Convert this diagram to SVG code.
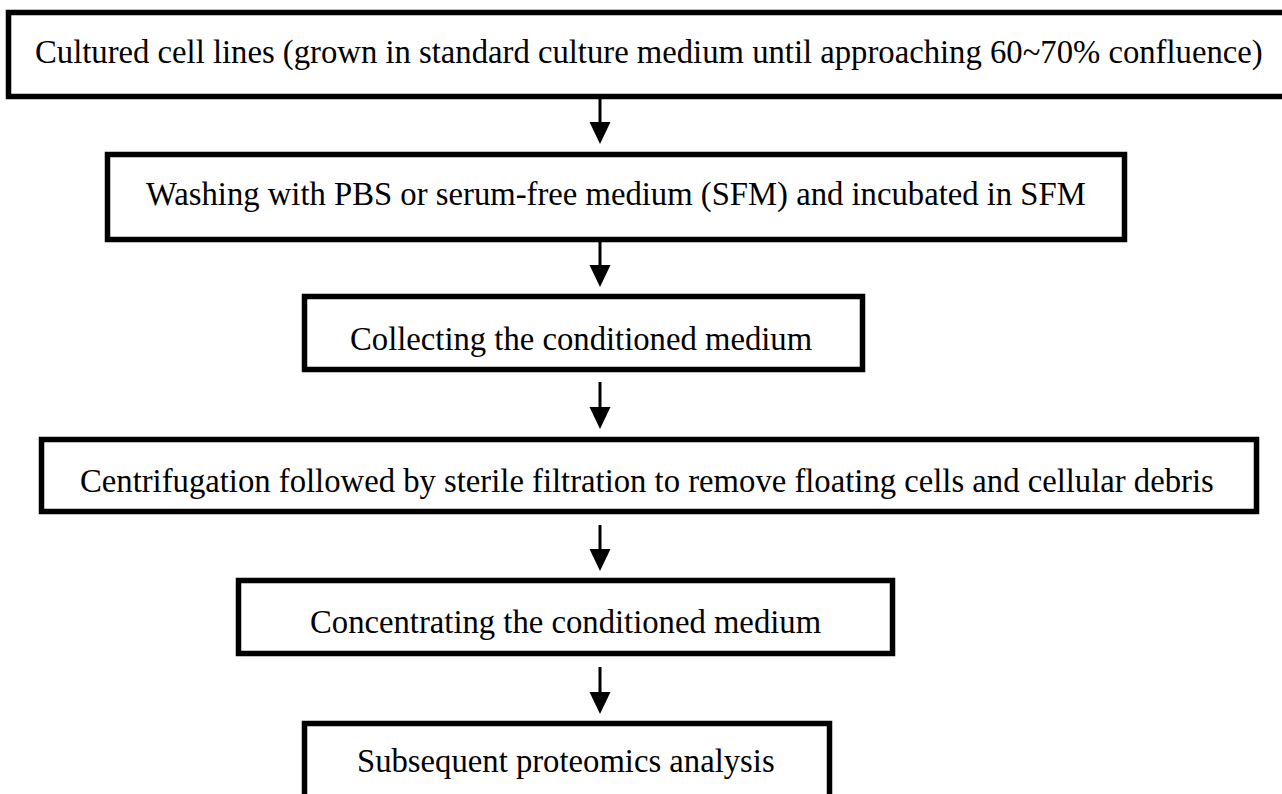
<svg xmlns="http://www.w3.org/2000/svg" width="1282" height="794" viewBox="0 0 1282 794">
<style>
.box{fill:#fff;stroke:#000;stroke-width:5.5}
.lbl{font-family:"Liberation Serif","Times New Roman",serif;font-size:32.7px;fill:#000}
.conn{stroke:#000;stroke-width:3;fill:none}
</style>
<defs>
<marker id="ah" markerUnits="userSpaceOnUse" markerWidth="24" markerHeight="22" refX="1" refY="10.5" orient="auto">
<path d="M0,0 L22,10.5 L0,21 z" fill="#000"/>
</marker>
</defs>
<rect width="1282" height="794" fill="#fff"/>
<g id="connectors">
<line class="conn" x1="600" y1="98" x2="600" y2="123" marker-end="url(#ah)"/>
<line class="conn" x1="600" y1="241" x2="600" y2="266" marker-end="url(#ah)"/>
<line class="conn" x1="600" y1="382" x2="600" y2="408" marker-end="url(#ah)"/>
<line class="conn" x1="600" y1="525" x2="600" y2="550" marker-end="url(#ah)"/>
<line class="conn" x1="600" y1="667" x2="600" y2="693" marker-end="url(#ah)"/>
</g>
<g id="n1">
<rect class="box" x="8.5" y="12.5" width="1290" height="84"/>
<text class="lbl" x="35" y="63">Cultured cell lines (grown in standard culture medium until approaching 60~70% confluence)</text>
</g>
<g id="n2">
<rect class="box" x="107.5" y="154.5" width="1017" height="85"/>
<text class="lbl" x="146" y="205">Washing with PBS or serum-free medium (SFM) and incubated in SFM</text>
</g>
<g id="n3">
<rect class="box" x="304.5" y="296.5" width="558" height="73"/>
<text class="lbl" x="350" y="350">Collecting the conditioned medium</text>
</g>
<g id="n4">
<rect class="box" x="41.5" y="439.5" width="1215" height="72"/>
<text class="lbl" x="80" y="492">Centrifugation followed by sterile filtration to remove floating cells and cellular debris</text>
</g>
<g id="n5">
<rect class="box" x="238.5" y="580.5" width="654" height="73"/>
<text class="lbl" x="310" y="633">Concentrating the conditioned medium</text>
</g>
<g id="n6">
<rect class="box" x="304.5" y="723.5" width="525" height="90"/>
<text class="lbl" x="357" y="772">Subsequent proteomics analysis</text>
</g>
</svg>
